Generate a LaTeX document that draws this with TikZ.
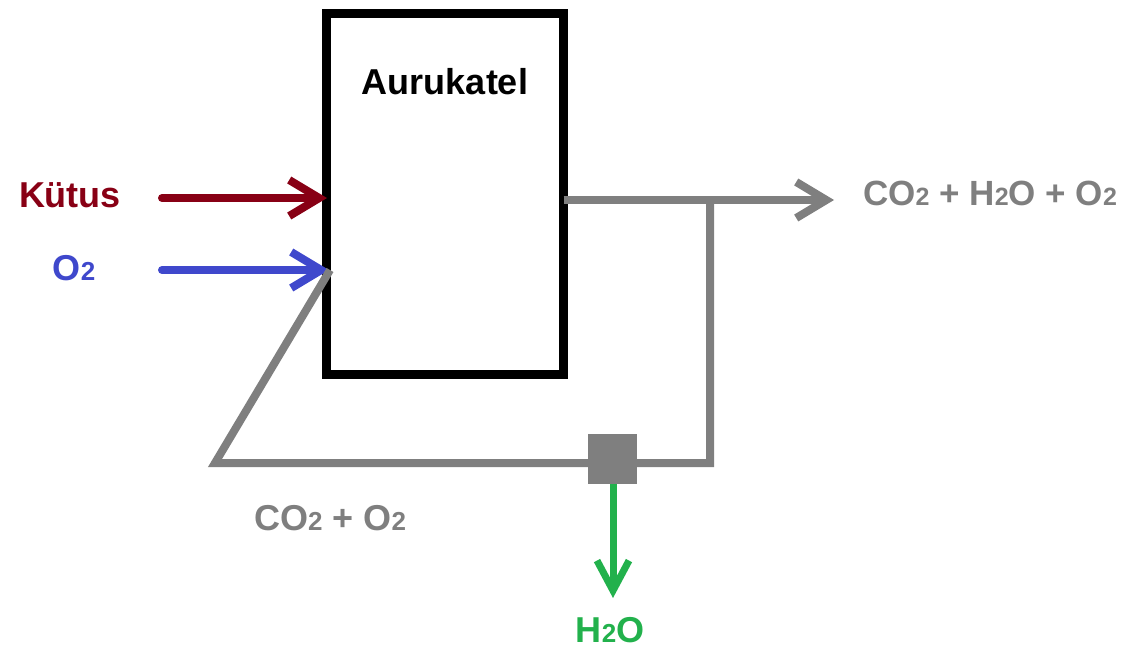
\documentclass[tikz,border=0pt]{standalone}
\usepackage{fontspec}
\setmainfont{Liberation Sans}
\usetikzlibrary{arrows.meta}
\definecolor{pdred}{HTML}{880015}
\definecolor{pblue}{HTML}{3F48CC}
\definecolor{pgray}{HTML}{7F7F7F}
\definecolor{pgreen}{HTML}{22B14C}
\newcommand\sbx[1]{{\fontsize{26}{26}\selectfont #1}}
\newcommand\sbxs[1]{{\fontsize{25}{25}\selectfont #1}}
\tikzset{
  lbl/.style={font=\fontsize{36}{40}\selectfont\bfseries, inner sep=0pt},
  flow/.style={line width=8pt},
  barb/.style={-{Straight Barb[length=30pt,width=36pt]}},
}
\begin{document}
\begin{tikzpicture}[x=1pt,y=-1pt]
\useasboundingbox (0,0) rectangle (1126,648);
% boiler
\node[draw, line width=9pt, minimum width=237.5pt, minimum height=361pt, inner sep=0pt, outer sep=0pt] (box) at (444.75,193.5) {};
\node[lbl] (title) at (445,82) {Aurukatel};
% inputs
\node[lbl, text=pdred] (kutus) at (70,195) {Kütus};
\node[lbl, text=pblue] (o2) at (74,268) {O\sbx{2}};
\coordinate (kin) at (162,198);
\coordinate (oin) at (162,270);
\coordinate (kend) at (327,198);
\coordinate (oend) at (329,270);
\draw[flow, pdred, line cap=round, barb] (kin) -- (kend);
\draw[flow, pblue, line cap=round, barb] (oin) -- (oend);
% output and recycle
\coordinate (bout) at (563.5,200);
\coordinate (j1) at (710,200);
\coordinate (outend) at (834,200);
\coordinate (j2) at (710,463);
\coordinate (j3) at (215,463);
\coordinate (rin) at (330,270);
\draw[flow, pgray, barb] (bout) -- (outend);
\draw[flow, pgray] (j1) -- (j2) -- (j3) -- (rin);
\node[lbl, font=\fontsize{35}{40}\selectfont\bfseries, text=pgray, anchor=west] (prod) at (863,193) {CO\sbxs{2} + H\sbxs{2}O + O\sbxs{2}};
\node[lbl, text=pgray] (rec) at (330,518) {CO\sbx{2} + O\sbx{2}};
% separator
\node[fill=pgray, minimum width=49pt, minimum height=50pt, inner sep=0pt, outer sep=0pt] (sep) at (612.5,459) {};
\coordinate (wend) at (613,598);
\draw[line width=7pt, pgreen, -{Straight Barb[length=30pt,width=32pt]}] (sep.south -| wend) -- (wend);
\node[lbl, text=pgreen] (h2o) at (610,630) {H\sbx{2}O};
\end{tikzpicture}
\end{document}
